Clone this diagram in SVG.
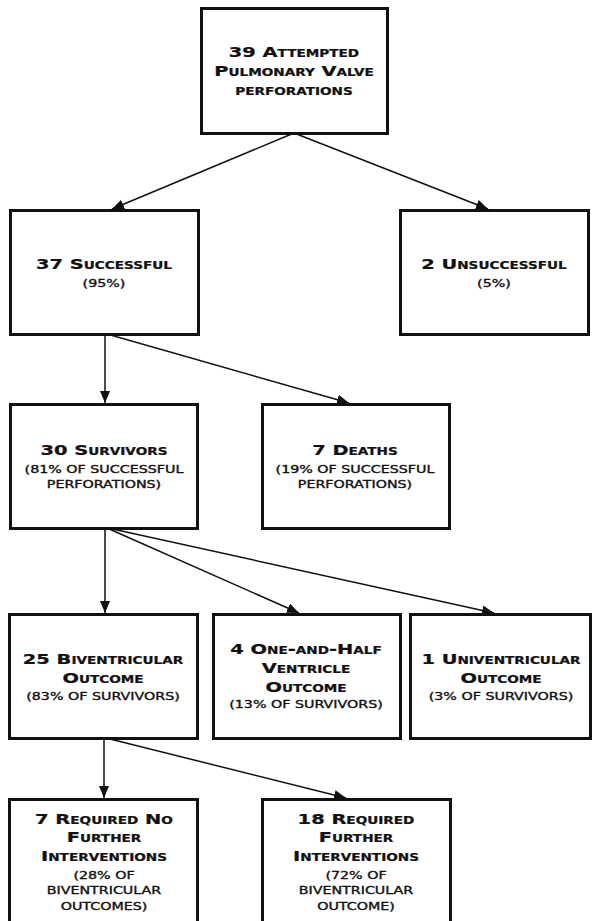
<svg xmlns="http://www.w3.org/2000/svg" width="593" height="921" viewBox="0 0 593 921">
<style>
.box{fill:#fff;stroke:#111;stroke-width:3}
.edge{stroke:#111;stroke-width:1.5;fill:none;marker-end:url(#ah)}
text{fill:#111;text-anchor:middle;transform-box:fill-box;transform-origin:center}
.t{font-family:"DejaVu Sans",sans-serif;font-weight:bold;font-size:14.5px;font-variant:small-caps;transform:scaleX(1.34);stroke:#111;stroke-width:0.25}
.s{font-family:"DejaVu Sans",sans-serif;font-size:10.5px;transform:scaleX(1.36);stroke:#111;stroke-width:0.35}
</style>
<defs>
<marker id="ah" markerUnits="userSpaceOnUse" markerWidth="13" markerHeight="11" refX="12" refY="5" orient="auto">
<path d="M0,0 L12,5 L0,10 z" fill="#111"/>
</marker>
</defs>
<rect width="593" height="921" fill="#fff"/>
<g id="connectors">
<line class="edge" x1="294" y1="133" x2="112" y2="209"/>
<line class="edge" x1="294" y1="133" x2="488" y2="209"/>
<line class="edge" x1="105" y1="334" x2="105" y2="403"/>
<line class="edge" x1="107" y1="334" x2="349" y2="403"/>
<line class="edge" x1="105" y1="528" x2="105" y2="613"/>
<line class="edge" x1="107" y1="528" x2="299" y2="613"/>
<line class="edge" x1="108" y1="528" x2="494" y2="613"/>
<line class="edge" x1="104" y1="738" x2="104" y2="798"/>
<line class="edge" x1="106" y1="738" x2="346" y2="798"/>
</g>
<g id="n1">
<rect class="box" x="201.5" y="8.5" width="186" height="125"/>
<text class="t" x="294" y="57">39 Attempted</text>
<text class="t" x="294" y="76">Pulmonary Valve</text>
<text class="t" x="294" y="95">perforations</text>
</g>
<g id="n2">
<rect class="box" x="10.5" y="210.5" width="188" height="124"/>
<text class="t" x="104" y="269">37 Successful</text>
<text class="s" x="104" y="287">(95%)</text>
</g>
<g id="n3">
<rect class="box" x="400.5" y="210.5" width="188" height="124"/>
<text class="t" x="494" y="269">2 Unsuccessful</text>
<text class="s" x="494" y="287">(5%)</text>
</g>
<g id="n4">
<rect class="box" x="10.5" y="404.5" width="187" height="124"/>
<text class="t" x="104" y="455">30 Survivors</text>
<text class="s" x="104" y="473">(81% OF SUCCESSFUL</text>
<text class="s" x="104" y="488">PERFORATIONS)</text>
</g>
<g id="n5">
<rect class="box" x="262.5" y="404.5" width="187" height="124"/>
<text class="t" x="355" y="455">7 Deaths</text>
<text class="s" x="355" y="473">(19% OF SUCCESSFUL</text>
<text class="s" x="355" y="488">PERFORATIONS)</text>
</g>
<g id="n6">
<rect class="box" x="9.5" y="614.5" width="188" height="124"/>
<text class="t" x="103" y="664">25 Biventricular</text>
<text class="t" x="103" y="683">Outcome</text>
<text class="s" x="103" y="700">(83% OF SURVIVORS)</text>
</g>
<g id="n7">
<rect class="box" x="213.5" y="614.5" width="187" height="124"/>
<text class="t" x="306" y="654">4 One-and-Half</text>
<text class="t" x="306" y="673">Ventricle</text>
<text class="t" x="306" y="692">Outcome</text>
<text class="s" x="306" y="708">(13% OF SURVIVORS)</text>
</g>
<g id="n8">
<rect class="box" x="410.5" y="614.5" width="180" height="124"/>
<text class="t" x="501" y="664">1 Univentricular</text>
<text class="t" x="501" y="683">Outcome</text>
<text class="s" x="501" y="700">(3% OF SURVIVORS)</text>
</g>
<g id="n9">
<rect class="box" x="9.5" y="799.5" width="188" height="130"/>
<text class="t" x="104" y="824">7 Required No</text>
<text class="t" x="104" y="842">Further</text>
<text class="t" x="104" y="861">Interventions</text>
<text class="s" x="104" y="879">(28% OF</text>
<text class="s" x="104" y="894">BIVENTRICULAR</text>
<text class="s" x="104" y="910">OUTCOMES)</text>
</g>
<g id="n10">
<rect class="box" x="262.5" y="799.5" width="188" height="130"/>
<text class="t" x="356" y="824">18 Required</text>
<text class="t" x="356" y="842">Further</text>
<text class="t" x="356" y="861">Interventions</text>
<text class="s" x="356" y="879">(72% OF</text>
<text class="s" x="356" y="894">BIVENTRICULAR</text>
<text class="s" x="356" y="910">OUTCOME)</text>
</g>
</svg>
